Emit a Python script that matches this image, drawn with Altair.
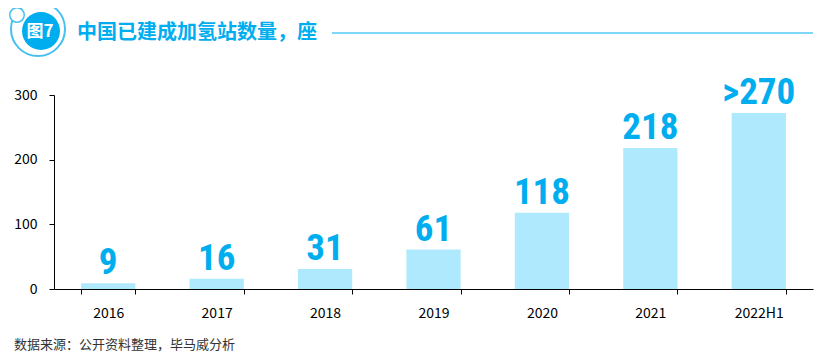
import altair as alt
import pandas as pd

years = ["2016", "2017", "2018", "2019", "2020", "2021", "2022H1"]
stations = [9, 16, 31, 61, 118, 218, 272]
value_labels = ["9", "16", "31", "61", "118", "218", ">270"]
y_ticks = [0, 100, 200, 300]

title_text = "中国已建成加氢站数量，座"
badge_text = "图7"
source_text = "数据来源：公开资料整理，毕马威分析"

BLUE = "#00AEEF"
RING = "#45C0F0"
BAR = "#AEE9FD"

df = pd.DataFrame({"year": years, "value": stations, "label": value_labels})
one = pd.DataFrame({"k": [0]})

x_enc = alt.X("year:N", sort=years,
              scale=alt.Scale(paddingInner=0.5, paddingOuter=0.25),
              axis=alt.Axis(title=None, labelAngle=0, tickBand="extent",
                            domainColor="#000", tickColor="#000", tickSize=5,
                            labelPadding=12, labelFontSize=14, labelColor="#000",
                            labelFont="Noto Sans CJK SC"))
y_enc = alt.Y("value:Q", scale=alt.Scale(domain=[0, 300], nice=False),
              axis=alt.Axis(title=None, values=y_ticks, grid=False,
                            domainColor="#000", tickColor="#000", tickSize=5,
                            labelPadding=12, labelFontSize=14, labelColor="#000",
                            labelFont="Noto Sans CJK SC"))

base = alt.Chart(df)
bars = base.mark_bar(color=BAR).encode(x=x_enc, y=y_enc)
labels = base.mark_text(color=BLUE, fontSize=37, fontWeight="bold",
                        font="Roboto Condensed, Liberation Sans Narrow, Roboto",
                        baseline="alphabetic", dy=-9).encode(
    x=alt.X("year:N", sort=years), y="value:Q", text="label:N")

deco = alt.Chart(one)
ring = deco.mark_point(shape="circle", filled=False, size=2916, strokeWidth=2,
                       color=RING, opacity=1).encode(x=alt.value(-16), y=alt.value(-66))
disc = deco.mark_point(shape="circle", filled=True, size=1444, color=BLUE,
                       opacity=1).encode(x=alt.value(-13), y=alt.value(-64))
small = deco.mark_point(shape="circle", filled=True, size=210, color="white",
                        stroke=RING, strokeWidth=1.5, opacity=1).encode(
    x=alt.value(-37), y=alt.value(-80))
badge = deco.mark_text(text=badge_text, color="white", fontSize=17, fontWeight="bold",
                       font="Noto Sans CJK SC", align="center", baseline="middle").encode(
    x=alt.value(-14), y=alt.value(-63))
title = deco.mark_text(text=title_text, color=BLUE, fontSize=20, fontWeight="bold",
                       font="Noto Sans CJK SC", align="left", baseline="middle").encode(
    x=alt.value(23), y=alt.value(-62))
line = deco.mark_rule(color=BLUE, strokeWidth=1.2).encode(
    x=alt.value(278), x2=alt.value(759), y=alt.value(-62))
source = deco.mark_text(text=source_text, color="#333", fontSize=13,
                        font="Noto Sans CJK SC", align="left", baseline="middle").encode(
    x=alt.value(-40), y=alt.value(250))

chart = alt.layer(bars, labels, ring, disc, small, badge, title, line, source).properties(
    width=759, height=194,
    autosize=alt.AutoSizeParams(type="none"),
    padding={"left": 46, "top": 87, "right": 1, "bottom": 63},
).configure_view(stroke=None)

chart.save("out.html", embed_options={"renderer": "svg", "actions": False})
